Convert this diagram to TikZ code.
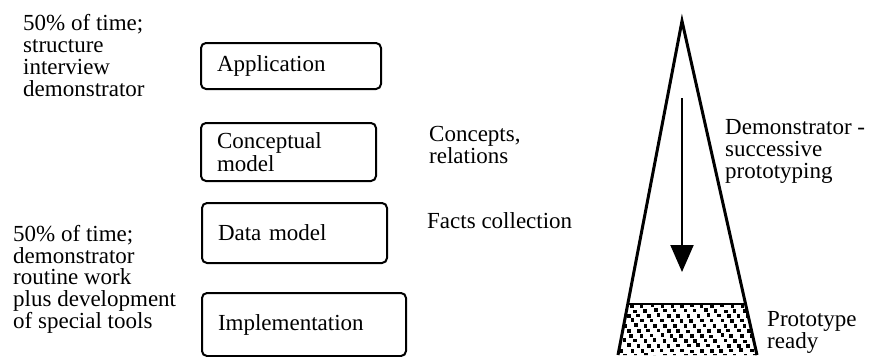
\documentclass[tikz,border=0pt]{standalone}
\usepackage{fontspec}
\setmainfont{Liberation Serif}
\usetikzlibrary{arrows.meta,calc}
\begin{document}
\begin{tikzpicture}[x=1pt,y=-1pt,
  txt/.style={anchor=base west, align=left, inner sep=0pt,
    font=\fontsize{23}{21.7}\selectfont},
  layer/.style={draw, line width=2pt, rounded corners=5pt, anchor=north west,
    inner xsep=16pt, inner ysep=0pt, align=left,
    font=\fontsize{23}{22.5}\selectfont}]
  \useasboundingbox (0,0) rectangle (872,356);

  % layer boxes
  \node[layer, text width=148pt, minimum height=46pt] (app) at (200,42) {Application};
  \node[layer, text width=143pt, minimum height=58pt] (concept) at (200,122) {Conceptual\\model};
  \node[layer, text width=153pt, minimum height=60pt] (data) at (201,202) {Data model};
  \node[layer, text width=172pt, minimum height=63pt] (impl) at (201,292) {Implementation};

  % side notes (anchored at the baseline of their last line)
  \node[txt] (timeA) at (23,96) {50\% of time;\\structure\\interview\\demonstrator};
  \node[txt] (timeB) at (13,328.3) {50\% of time;\\demonstrator\\routine work\\plus development\\of special tools};
  \node[txt] (concepts) at (429,163) {Concepts,\\relations};
  \node[txt] (facts) at (427,228) {Facts collection};
  \node[txt] (demo) at (725,178) {Demonstrator -\\successive\\prototyping};
  \node[txt] (proto) at (767,348) {Prototype\\ready};

  % prototyping cone
  \coordinate (apex) at (682,21);
  \coordinate (bl) at (618,355);
  \coordinate (br) at (757,355);
  \coordinate (bandl) at ($(apex)!0.847!(bl)$);
  \coordinate (bandr) at ($(apex)!0.847!(br)$);

  % dotted fill of the finished prototype band
  \begin{scope}
    \clip (bandl) -- (bandr) -- (br) -- (bl) -- cycle;
    \pgfmathsetseed{11}
    \foreach \r in {0,...,11} {
      \foreach \c in {0,...,16} {
        \fill ({600+\c*10+mod(\r,3)*3.33+0.8*rand}, {304+\r*5+0.6*rand}) rectangle ++(3.6,3.6);
      }
    }
  \end{scope}
  \draw[line width=2pt] (bandl) -- (bandr);
  \draw[line width=3pt, line join=miter] (bl) -- (apex) -- (br);

  % downward arrow
  \coordinate (arrtop) at (682,98);
  \coordinate (arrtip) at (682,272);
  \draw[line width=2pt, -{Triangle[length=27pt,width=23pt]}] (arrtop) -- (arrtip);
\end{tikzpicture}
\end{document}
